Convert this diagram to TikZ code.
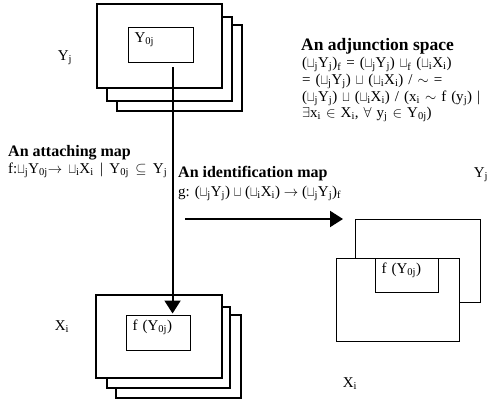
\documentclass[tikz,border=0pt]{standalone}
\usepackage{fontspec}
\usepackage{graphicx}
\setmainfont{Liberation Serif}
\usetikzlibrary{arrows.meta,positioning,calc}

\newcommand{\figfont}{\fontsize{15}{16.7}\selectfont}
\newcommand{\ix}[1]{\textsubscript{#1}}
\newcommand{\djcup}{\scalebox{0.78}[1]{$\sqcup$}}
\newcommand{\dunion}[1]{\djcup\ix{#1}}

\begin{document}
\begin{tikzpicture}[x=1pt,y=-1pt,font=\figfont,
  sheet/.style={draw,fill=white,line width=1.1pt},
  box/.style={sheet,anchor=north west,align=left,inner xsep=6pt,inner ysep=3pt,text height=12pt},
  tag/.style={inner sep=0pt},
  ttl/.style={tag,anchor=north west,align=left},
  arr/.style={-{Triangle[length=13pt,width=16pt]},line width=2pt}]
\useasboundingbox (0,0) rectangle (489,404);
% stack of Y_j
\draw[sheet] (117,25) rectangle (242,111);
\draw[sheet] (107,17) rectangle (232,101);
\draw[sheet] (97,4) rectangle (222,88);
\node[box,text width=53pt,text depth=17pt] (y0) at (128,27) {Y\ix{0j}};
\node[tag] (yl) at (65,58) {Y\ix{j}};
% stack of X_i
\draw[sheet] (116,315) rectangle (241,398);
\draw[sheet] (107,307) rectangle (230,388);
\draw[sheet] (96,295) rectangle (222,378);
\node[box,text width=52pt,text depth=17pt] (fy) at (126,315) {f (Y\ix{0j})};
\node[tag] (xl) at (62,327) {X\ix{i}};
% glued result
\node[sheet,anchor=north west,minimum width=125pt,minimum height=83pt] (gback) at (355,219) {};
\node[sheet,anchor=north west,minimum width=123pt,minimum height=83pt] (gfront) at (336,258) {};
\node[box,text width=51pt,text depth=16pt] (gfy) at (375,258) {f (Y\ix{0j})};
\node[tag] (yr) at (481,175) {Y\ix{j}};
\node[tag] (xr) at (350,384) {X\ix{i}};
% maps
\coordinate (drop) at ([xshift=11.5pt,yshift=-4pt]y0.south);
\draw[arr,shorten >=1.5pt] (drop) -- (drop |- fy.north);
\coordinate (gstart) at (185,219);
\draw[arr] (gstart) -- ([xshift=-12pt]gback.north west);
% texts
\node[ttl,font=\fontsize{17.5}{18}\selectfont\bfseries] (adjt) at (301,38) {An adjunction space};
\node[ttl,text width=181pt] (adjb) at (302,57) {%
(\dunion{j}Y\ix{j})\ix{f} = (\dunion{j}Y\ix{j}) \djcup\ix{f} (\dunion{i}X\ix{i})\\
\makebox[\linewidth][s]{= (\dunion{j}Y\ix{j}) \djcup{} (\dunion{i}X\ix{i}) / $\sim$ =}\\
\makebox[\linewidth][s]{(\dunion{j}Y\ix{j}) \djcup{} (\dunion{i}X\ix{i}) / (x\ix{i} $\sim$ f (y\ix{j}) |}\\
$\exists$x\ix{i} $\in$ X\ix{i}, $\forall$ y\ix{j} $\in$ Y\ix{0j})};
\node[ttl] (att) at (8,145) {{\fontsize{16}{16.6}\selectfont\bfseries An attaching map}\\
\makebox[159pt][s]{f:\dunion{j}Y\ix{0j}$\to$ \dunion{i}X\ix{i} | Y\ix{0j} $\subseteq$ Y\ix{j}}};
\node[ttl] (idm) at (178,166) {{\fontsize{16}{16.6}\selectfont\bfseries An identification map}\\[2pt]
g: (\dunion{j}Y\ix{j}) \djcup{} (\dunion{i}X\ix{i}) $\to$ (\dunion{j}Y\ix{j})\ix{f}};
\end{tikzpicture}
\end{document}
